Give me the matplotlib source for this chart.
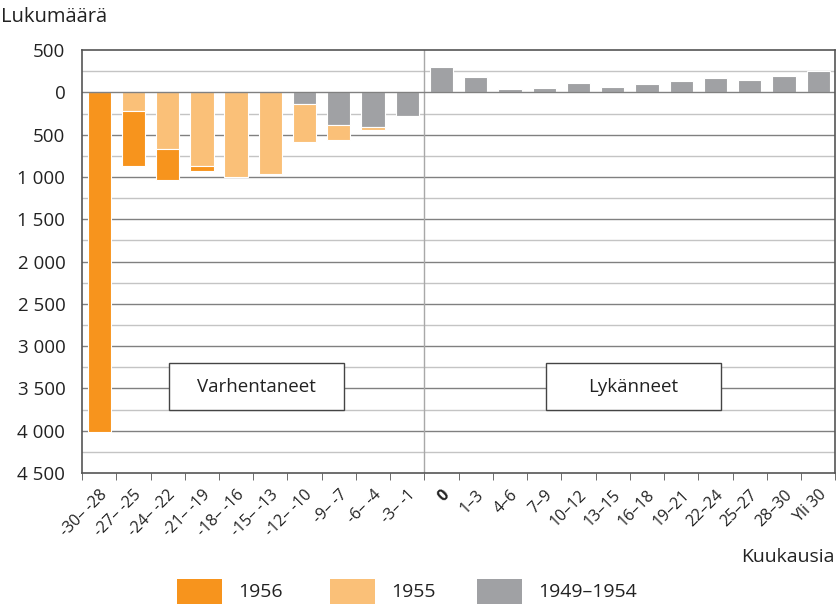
import numpy as np
import matplotlib.pyplot as plt
from matplotlib.patches import Rectangle

plt.rcParams['font.family'] = ['Open Sans', 'DejaVu Sans']

# left half: early retirees (drawn downward), right half: postponed (upward)
left_labels = ['-30– -28', '-27– -25', '-24– -22', '-21– -19', '-18– -16',
               '-15– -13', '-12– -10', '-9– -7', '-6– -4', '-3– -1']
right_labels = ['0', '1–3', '4–6', '7–9', '10–12', '13–15', '16–18',
                '19–21', '22–24', '25–27', '28–30', 'Yli 30']
y1956 = [4020, 660, 360, 55, 0, 0, 0, 0, 0, 0]
y1955 = [0, 215, 670, 875, 1000, 960, 450, 175, 30, 12]
y4954_left = [0, 0, 0, 0, 0, 0, 140, 385, 410, 278]
y4954_right = [300, 177, 44, 52, 106, 67, 99, 135, 165, 142, 194, 256]

c1956 = '#F7941D'
c1955 = '#FAC078'
cgray = '#A0A1A4'

fig = plt.figure(figsize=(8.37, 6.04), dpi=100)
ax = fig.add_axes([0.098, 0.217, 0.900, 0.700])

nl = len(left_labels)
xl = np.arange(nl)
xr = np.arange(nl, nl + len(right_labels))
w = 0.68


def edges(vals):
    return ['white' if v != 0 else 'none' for v in vals]


g = -np.array(y4954_left)
l55 = -np.array(y1955)
l56 = -np.array(y1956)
kw = dict(width=w, linewidth=0.8, zorder=3)
ax.bar(xl, g, color=cgray, edgecolor=edges(g), **kw)
ax.bar(xl, l55, bottom=g, color=c1955, edgecolor=edges(l55), **kw)
ax.bar(xl, l56, bottom=g + l55, color=c1956, edgecolor=edges(l56), **kw)
ax.bar(xr, y4954_right, color=cgray, edgecolor='white', **kw)

ax.set_xlim(-0.5, nl + len(right_labels) - 0.5)
ax.set_ylim(-4500, 500)

# gridlines: every 250, darker at every 500; zero line on top of bars
for v in np.arange(-4250, 500, 250):
    major = v % 500 == 0
    ax.axhline(v, color='#808080' if major else '#c4c4c4',
               lw=1.0, zorder=4 if v == 0 else 1)
ax.axvline(nl - 0.5, color='#a8a8a8', lw=1.0, zorder=2)

yt = np.arange(-4500, 501, 500)
ax.set_yticks(yt)
ax.set_yticklabels([f'{abs(v):,}'.replace(',', ' ') for v in yt], fontsize=13.5)
ax.tick_params(axis='y', length=0, pad=12, colors='#222222')

ax.set_xticks(np.concatenate([xl, xr]))
labels = ax.set_xticklabels(left_labels + right_labels, rotation=45,
                            ha='right', rotation_mode='anchor', fontsize=11.5)
labels[nl].set_fontweight('bold')
ax.set_xticks(np.arange(-0.5, nl + len(right_labels)), minor=True)
ax.tick_params(axis='x', which='major', length=0, pad=10, colors='#222222')
ax.tick_params(axis='x', which='minor', length=5, color='#555555')

for s in ax.spines.values():
    s.set_color('#555555')
    s.set_linewidth(1.2)
    s.set_zorder(4)

# annotation boxes
for cx, txt in [(4.6, 'Varhentaneet'), (15.6, 'Lykänneet')]:
    ax.add_patch(Rectangle((cx - 2.55, -3755), 5.1, 555, facecolor='white',
                           edgecolor='#444444', lw=1.0, zorder=5))
    ax.text(cx, -3478, txt, ha='center', va='center', fontsize=13.5,
            color='#222222', zorder=6)

fig.text(1 / 837, 1 - 17 / 604, 'Lukumäärä', fontsize=14.5, va='center',
         color='#222222')
fig.text(835 / 837, 1 - 557 / 604, 'Kuukausia', fontsize=14, va='center',
         ha='right', color='#222222')

# legend at bottom
for px, col, txt in [(177, c1956, '1956'), (330, c1955, '1955'),
                     (477, cgray, '1949–1954')]:
    fig.patches.append(Rectangle((px / 837, 0), 45 / 837, 25 / 604,
                                 transform=fig.transFigure, facecolor=col,
                                 edgecolor='none'))
    fig.text((px + 61) / 837, 1 - 592 / 604, txt, fontsize=14,
             va='center', color='#222222')

fig.savefig('out.png', dpi=100)
